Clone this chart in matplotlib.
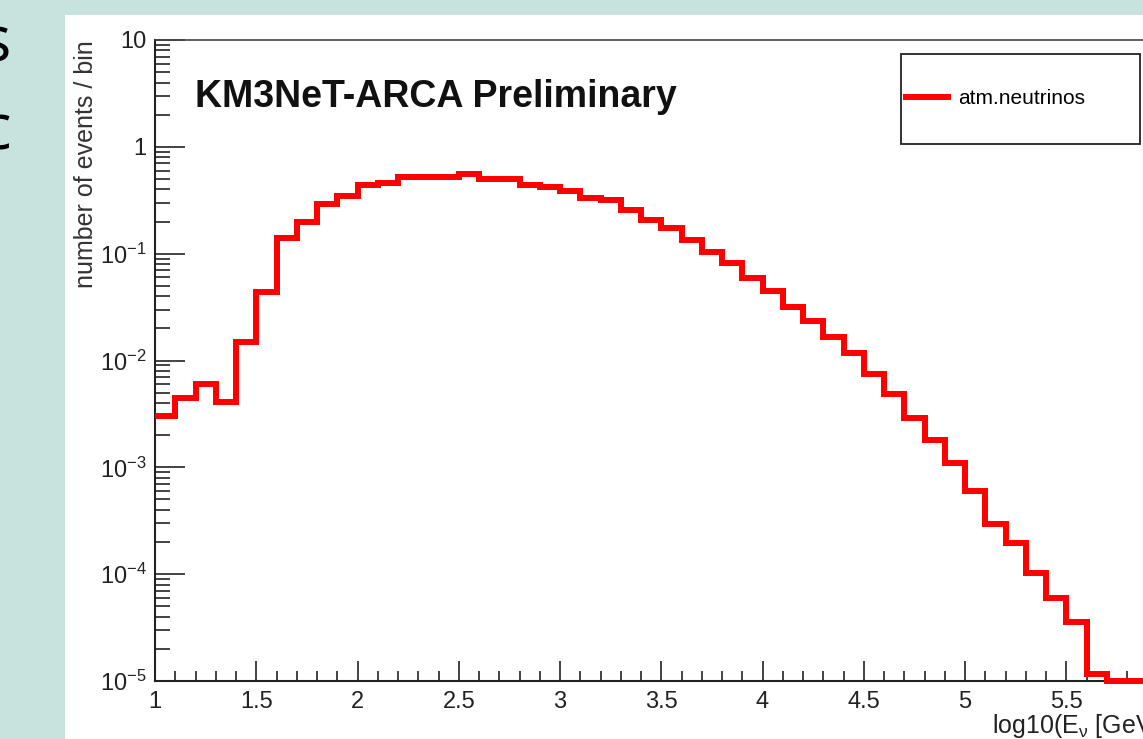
import numpy as np
import matplotlib
matplotlib.use("Agg")
import matplotlib.pyplot as plt
from matplotlib.patches import Rectangle
from matplotlib.ticker import FixedLocator, FixedFormatter, LogLocator, NullFormatter, MultipleLocator

plt.rcParams['font.family'] = ['Liberation Sans', 'DejaVu Sans']
plt.rcParams['mathtext.fontset'] = 'custom'
plt.rcParams['mathtext.rm'] = 'Liberation Sans'
plt.rcParams['mathtext.it'] = 'Liberation Sans:italic'
plt.rcParams['mathtext.default'] = 'regular'

# histogram: log10(E_nu) bins of 0.1 from 1 to 6
bin_edges = np.linspace(1.0, 6.0, 51)
events = [0.0030, 0.0045, 0.0060, 0.0041, 0.0148, 0.044, 0.14, 0.198, 0.29, 0.347,
          0.44, 0.46, 0.52, 0.52, 0.52, 0.56, 0.50, 0.50, 0.44, 0.42,
          0.385, 0.33, 0.316, 0.256, 0.207, 0.174, 0.134, 0.103, 0.081, 0.059,
          0.045, 0.0316, 0.0234, 0.0167, 0.0118, 0.0074, 0.0049, 0.0029, 0.0018, 0.0011,
          0.0006, 0.000295, 0.000195, 0.000102, 6.0e-5, 3.6e-5, 1.17e-5, 1e-5, 1e-5, 1e-5]

ytick_vals = [1e-5, 1e-4, 1e-3, 1e-2, 1e-1, 1, 10]
ytick_labels = [r'$10^{-5}$', r'$10^{-4}$', r'$10^{-3}$', r'$10^{-2}$', r'$10^{-1}$', '1', '10']
xtick_vals = [1, 1.5, 2, 2.5, 3, 3.5, 4, 4.5, 5, 5.5]
xtick_labels = ['1', '1.5', '2', '2.5', '3', '3.5', '4', '4.5', '5', '5.5']

W, H = 1143, 739
fig = plt.figure(figsize=(W / 100, H / 100), dpi=100)
fig.patch.set_facecolor('#c8e3de')
# white slide panel
fig.patches.append(Rectangle((65 / W, 0), 1 - 65 / W, (H - 15) / H, transform=fig.transFigure,
                             facecolor='white', edgecolor='none', zorder=-5))

# leftover slide letters on the left edge
fig.text(11 / W, (H - 62) / H, 's', ha='right', va='baseline', fontsize=46, family='Open Sans', color='black')
fig.text(11 / W, (H - 150) / H, 'c', ha='right', va='baseline', fontsize=46, family='Open Sans', color='black')

ax = fig.add_axes([155 / W, 58 / H, 1012.5 / W, 641 / H])
ax.set_facecolor('white')
ax.stairs(events, bin_edges, baseline=None, color='#ff0000', lw=4.3, clip_on=False,
          label='atm.neutrinos', zorder=3)

ax.set_yscale('log')
ax.set_ylim(1e-5, 10)
ax.set_xlim(1, 6)

ax.yaxis.set_major_locator(FixedLocator(ytick_vals))
ax.yaxis.set_major_formatter(FixedFormatter(ytick_labels))
ax.yaxis.set_minor_locator(LogLocator(base=10, subs=np.arange(2, 10), numticks=20))
ax.yaxis.set_minor_formatter(NullFormatter())
ax.xaxis.set_major_locator(FixedLocator(xtick_vals))
ax.xaxis.set_major_formatter(FixedFormatter(xtick_labels))
ax.xaxis.set_minor_locator(MultipleLocator(0.1))

ax.tick_params(axis='y', which='major', direction='in', length=21.6, width=1.2, pad=6,
               labelsize=17, colors='#222222')
ax.tick_params(axis='y', which='minor', direction='in', length=10.8, width=1.2, colors='#222222')
ax.tick_params(axis='x', which='major', direction='in', length=14.4, width=1.2, pad=7,
               labelsize=17, colors='#222222')
ax.tick_params(axis='x', which='minor', direction='in', length=7.2, width=1.2, colors='#222222')

for side in ['left', 'bottom']:
    ax.spines[side].set_linewidth(1.5)
    ax.spines[side].set_color('#222222')
ax.spines['top'].set_linewidth(1.2)
ax.spines['top'].set_color('#444444')
ax.spines['right'].set_linewidth(1.2)

ax.set_ylabel('number of events / bin', fontsize=18, color='#333333')
ax.yaxis.set_label_coords(-0.056, 1.0)
ax.yaxis.label.set_ha('right')
ax.set_xlabel(r'log10(E$_{\nu}$ [GeV])', fontsize=18, color='#222222')
ax.xaxis.set_label_coords(1.0, -0.048)
ax.xaxis.label.set_ha('right')

fig.text(195 / W, (H - 107) / H, 'KM3NeT-ARCA Preliminary', fontsize=27, fontweight='bold',
         ha='left', va='baseline', color='#111111')

# legend box
ax.add_patch(Rectangle((901 / W, (H - 144) / H), 239 / W, 90 / H, transform=fig.transFigure,
                       facecolor='white', edgecolor='#222222', lw=1.3, zorder=5, clip_on=False))
leg = ax.legend(loc='center left', bbox_to_anchor=(906 / W, (H - 99) / H), bbox_transform=fig.transFigure,
                frameon=False, fontsize=15, handlelength=2.0, handletextpad=0.5, borderpad=0,
                borderaxespad=0)
leg.set_zorder(6)

fig.savefig('out.png', dpi=100)
